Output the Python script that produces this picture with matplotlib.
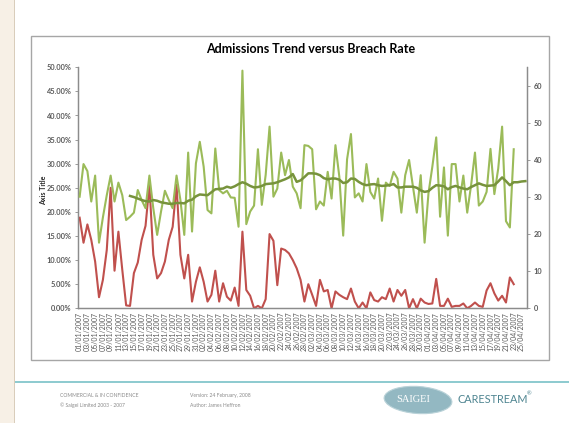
import matplotlib
matplotlib.use("Agg")
import matplotlib.pyplot as plt
from matplotlib.patches import Rectangle, Ellipse

W, H = 569, 423

# ---------------- data ----------------
date_labels = [
    "01/01/2007", "03/01/2007", "05/01/2007", "07/01/2007", "09/01/2007", "11/01/2007",
    "13/01/2007", "15/01/2007", "17/01/2007", "19/01/2007", "21/01/2007", "23/01/2007",
    "25/01/2007", "27/01/2007", "29/01/2007", "31/01/2007", "02/02/2007", "04/02/2007",
    "06/02/2007", "08/02/2007", "10/02/2007", "12/02/2007", "14/02/2007", "16/02/2007",
    "18/02/2007", "20/02/2007", "22/02/2007", "24/02/2007", "26/02/2007", "28/02/2007",
    "02/03/2007", "04/03/2007", "06/03/2007", "08/03/2007", "10/03/2007", "12/03/2007",
    "14/03/2007", "16/03/2007", "18/03/2007", "20/03/2007", "22/03/2007", "24/03/2007",
    "26/03/2007", "28/03/2007", "30/03/2007", "01/04/2007", "03/04/2007", "05/04/2007",
    "07/04/2007", "09/04/2007", "11/04/2007", "13/04/2007", "15/04/2007", "17/04/2007",
    "19/04/2007", "21/04/2007", "23/04/2007", "25/04/2007",
]
n_categories = 116

# breach rate (%), left axis
breach_rate = [
    18.8, 13.6, 17.4, 14.2, 9.7, 2.3, 5.9, 12.1, 25.0, 7.8,
    15.9, 8.0, 0.6, 0.5, 7.3, 9.5, 14.2, 17.1, 25.6, 11.1,
    6.2, 7.3, 9.7, 14.2, 16.9, 25.6, 11.1, 6.2, 11.1, 1.4,
    5.5, 8.5, 5.5, 1.4, 2.8, 7.8, 1.4, 5.2, 2.4, 1.6,
    4.3, 0.5, 15.9, 3.8, 2.6, 0.0, 0.5, 0.0, 1.9, 15.4,
    14.0, 4.8, 12.4, 12.1, 11.4, 10.0, 8.3, 5.9, 1.4, 5.0,
    2.8, 0.5, 5.9, 3.5, 3.8, 0.0, 3.5, 2.8, 2.3, 1.9,
    4.1, 1.4, 0.0, 1.2, 0.0, 3.3, 1.7, 1.4, 2.3, 1.9,
    4.1, 1.4, 3.8, 2.6, 3.8, 0.0, 1.9, 0.0, 2.0, 1.2,
    0.9, 1.0, 6.1, 0.5, 0.5, 2.0, 0.3, 0.5, 0.5, 1.0,
    0.0, 0.5, 1.2, 0.5, 0.3, 3.7, 5.2, 3.1, 1.6, 2.6,
    1.2, 6.4, 5.0,
]

# admissions (count), right axis
admissions = [
    30.1, 38.9, 37.0, 28.8, 35.8, 17.7, 24.5, 30.5, 35.8, 28.8,
    33.9, 30.5, 23.8, 24.7, 25.8, 31.9, 29.2, 27.0, 35.8, 27.0,
    19.8, 26.1, 31.7, 29.2, 27.0, 35.8, 29.2, 19.8, 42.0, 20.7,
    39.1, 44.9, 38.2, 26.5, 25.6, 43.1, 31.9, 31.0, 31.7, 29.9,
    29.8, 22.0, 64.1, 22.7, 26.1, 27.7, 42.9, 27.9, 36.0, 49.0,
    30.1, 32.3, 42.0, 35.9, 40.0, 32.8, 31.0, 27.0, 44.0, 43.8,
    42.9, 26.7, 28.8, 27.7, 36.8, 29.6, 44.0, 35.5, 19.6, 40.2,
    47.0, 29.9, 31.0, 28.8, 38.9, 31.4, 29.6, 35.0, 23.6, 33.9,
    33.0, 36.8, 35.0, 25.8, 35.9, 40.0, 32.8, 25.8, 35.9, 17.7,
    31.0, 38.2, 46.1, 24.7, 38.0, 19.6, 38.9, 38.9, 28.8, 35.8,
    25.8, 33.2, 42.0, 27.7, 28.8, 31.4, 43.0, 30.8, 37.7, 49.0,
    23.5, 21.8, 42.9,
]

# admissions moving-average trend, right axis, starts at category 13
trend_start = 13
admissions_trend = [
    30.3, 30.0, 29.6, 29.2, 28.9, 28.8, 29.2, 29.0, 28.6, 28.4,
    28.2, 28.2, 28.4, 28.4, 28.3, 29.0, 29.3,
    30.2, 30.7, 30.6, 30.5, 31.3, 32.1, 32.2, 32.3, 32.8, 32.5,
    32.9, 33.5, 34.0, 33.6, 33.0, 32.6, 32.7, 33.0, 33.5, 33.6,
    33.7, 34.0, 34.4, 34.8, 35.3, 36.2, 34.1, 34.5, 35.4, 36.4,
    36.4, 36.3, 35.9, 35.1, 34.8, 35.0, 35.0, 34.7, 33.8, 34.0,
    35.0, 34.9, 34.1, 33.5, 33.2, 33.4, 33.5, 33.2, 33.0, 33.1,
    33.2, 33.5, 32.6, 32.6, 32.8, 32.8, 32.8, 32.5, 31.8, 31.4,
    31.6, 32.5, 33.2, 33.1, 32.9, 32.1, 32.7, 33.0, 32.6, 32.3,
    32.1, 32.7, 33.2, 33.7, 33.3, 33.0, 33.1, 33.2, 34.2, 35.3,
    34.3, 33.2, 34.0, 34.0, 34.2, 34.3,
]

left_ticks = [0, 5, 10, 15, 20, 25, 30, 35, 40, 45, 50]
right_ticks = [0, 10, 20, 30, 40, 50, 60]

title = "Admissions Trend versus Breach Rate"

# ---------------- figure ----------------
plt.rcParams["font.family"] = ["Lato", "DejaVu Sans"]

fig = plt.figure(figsize=(W / 100, H / 100), dpi=100)
fig.patch.set_facecolor("white")


def fx(x):
    return x / W


def fy(y):
    return 1 - y / H


# slide decorations
fig.add_artist(Rectangle((0, 0), fx(14), 1, transform=fig.transFigure,
                         facecolor="#F7F0E6", edgecolor="none", zorder=0))
fig.add_artist(Rectangle((fx(14), 0), fx(1.2), 1, transform=fig.transFigure,
                         facecolor="#D9CDBB", edgecolor="none", zorder=0))
fig.add_artist(Rectangle((fx(15), fy(382.5)), 1 - fx(15), fy(380.8) - fy(382.5),
                         transform=fig.transFigure, facecolor="#8FCBD0",
                         edgecolor="none", zorder=0))

# chart frame
fig.add_artist(Rectangle((fx(31), fy(360)), fx(549) - fx(31), fy(36) - fy(360),
                         transform=fig.transFigure, facecolor="white",
                         edgecolor="#A6A6A6", linewidth=1.0, zorder=0))

# axes
ax = fig.add_axes([fx(77.7), fy(308.3), fx(527.3) - fx(77.7), fy(67.3) - fy(308.3)])
ax.set_facecolor("none")
ax2 = ax.twinx()

x_all = list(range(len(breach_rate)))
ax.plot(x_all, breach_rate, color="#C0504D", lw=1.5, solid_joinstyle="round", zorder=3)
ax2.plot(list(range(len(admissions))), admissions, color="#9BBB59", lw=1.5,
         solid_joinstyle="round", zorder=3)
ax2.plot(list(range(trend_start, trend_start + len(admissions_trend))), admissions_trend,
         color="#77933C", lw=1.8, solid_joinstyle="round", zorder=4)

ax.set_xlim(-0.5, n_categories - 0.5)
ax.set_ylim(left_ticks[0], left_ticks[-1])
ax2.set_ylim(0, 65)

ax.set_yticks(left_ticks)
ax.set_yticklabels([f"{v:.2f}%" for v in left_ticks])
ax2.set_yticks(right_ticks)
ax2.set_yticklabels([str(v) for v in right_ticks])

ax.set_xticks(list(range(0, 2 * len(date_labels), 2)))
ax.set_xticklabels(date_labels, rotation=90, fontsize=5, color="#595959")

axis_col = "#8C8C8C"
for a in (ax, ax2):
    a.spines["top"].set_visible(False)
    for s in ("left", "right", "bottom"):
        a.spines[s].set_color(axis_col)
        a.spines[s].set_linewidth(0.9)

ax.tick_params(axis="y", length=2.5, width=0.6, color=axis_col, labelsize=5.3,
               labelcolor="#595959", pad=2)
ax2.tick_params(axis="y", length=2.5, width=0.6, color=axis_col, labelsize=5.3,
                labelcolor="#595959", pad=2)
ax.tick_params(axis="x", length=0, pad=2.5)
for lbl in ax.get_yticklabels() + ax2.get_yticklabels():
    lbl.set_fontweight("bold")

# titles
fig.text(fx(311), fy(49), title, ha="center", va="center", fontsize=9,
         fontweight="bold", color="black")
fig.text(fx(44), fy(190), "Axis Title", ha="center", va="center", rotation=90,
         fontsize=5, fontweight="bold", color="#262626")

# footer
foot_col = "#8A8A8A"
fig.text(fx(60), fy(395), "COMMERCIAL & IN CONFIDENCE", fontsize=3.6, color=foot_col,
         va="center")
fig.text(fx(60), fy(405), "© Saigei Limited 2003 - 2007", fontsize=3.6, color=foot_col,
         va="center")
fig.text(fx(190), fy(395), "Version: 24 February, 2008", fontsize=3.6, color=foot_col,
         va="center")
fig.text(fx(190), fy(405), "Author: James Heffron", fontsize=3.6, color=foot_col,
         va="center")

# logo
fig.add_artist(Ellipse((fx(418), fy(400)), fx(68), fy(0) - fy(27), angle=-6,
                       transform=fig.transFigure, facecolor="#93B8C2",
                       edgecolor="#B9D2D8", linewidth=0.8, zorder=1))
fig.text(fx(413), fy(399), "SAIGEI", fontsize=7.5, color="white",
         family=["Liberation Serif", "DejaVu Serif"], ha="center", va="center", zorder=2)
fig.text(fx(458), fy(399), "CARESTREAM", fontsize=7.8, color="#4F8591",
         ha="left", va="center")
fig.text(fx(527), fy(394), "®", fontsize=4, color="#4F8591", ha="left", va="center")

fig.savefig("out.png", dpi=100)
